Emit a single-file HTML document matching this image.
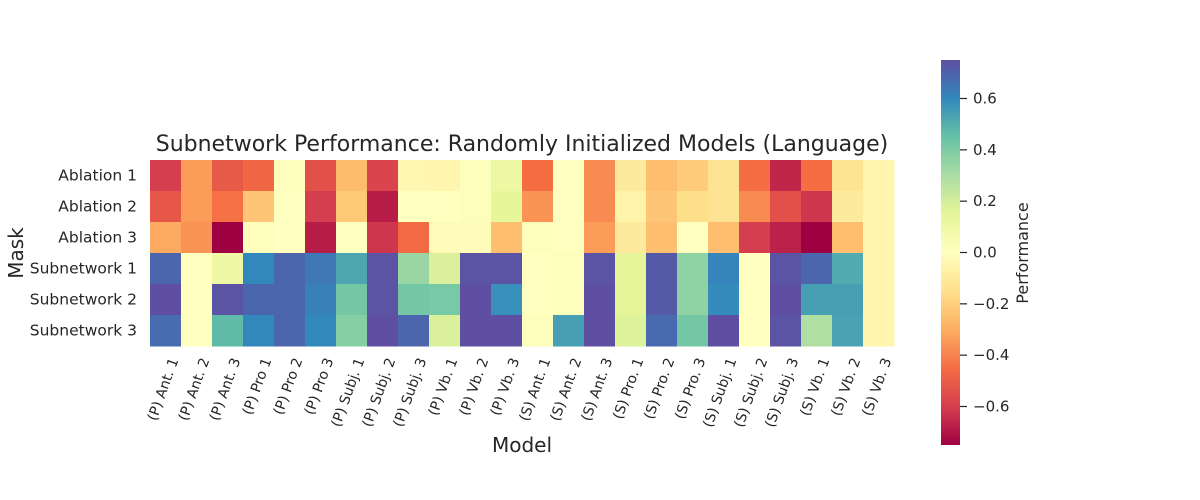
<!DOCTYPE html>
<html><head><meta charset="utf-8"><style>
body{margin:0;background:#fff;}
svg{display:block;font-family:"DejaVu Sans","Liberation Sans",sans-serif;fill:#262626;}
</style></head><body>
<svg id="chart" width="1200" height="500" xmlns="http://www.w3.org/2000/svg">
<defs><linearGradient id="cbg" x1="0" y1="1" x2="0" y2="0">
<stop offset="0" stop-color="#9e0142"/><stop offset="0.1" stop-color="#d53e4f"/><stop offset="0.2" stop-color="#f46d43"/><stop offset="0.3" stop-color="#fdae61"/><stop offset="0.4" stop-color="#fee08b"/><stop offset="0.5" stop-color="#ffffbf"/><stop offset="0.6" stop-color="#e6f598"/><stop offset="0.7" stop-color="#abdda4"/><stop offset="0.8" stop-color="#66c2a5"/><stop offset="0.9" stop-color="#3288bd"/><stop offset="1" stop-color="#5e4fa2"/>
</linearGradient></defs>
<text x="522" y="151" font-size="22" text-anchor="middle">Subnetwork Performance: Randomly Initialized Models (Language)</text>
<text x="522" y="452" font-size="20" text-anchor="middle">Model</text>
<text transform="translate(23,253) rotate(-90)" font-size="20" text-anchor="middle">Mask</text>
<g id="cells"></g>
<g id="ylab"></g>
<g id="xlab"></g>
<rect x="941" y="60" width="19" height="385" fill="url(#cbg)"/>
<g id="cbticks"></g>
<text transform="translate(1028,253) rotate(-90)" font-size="16" text-anchor="middle">Performance</text>
</svg>
<script>
const rows = ["Ablation 1","Ablation 2","Ablation 3","Subnetwork 1","Subnetwork 2","Subnetwork 3"];
const cols = ["(P) Ant. 1","(P) Ant. 2","(P) Ant. 3","(P) Pro 1","(P) Pro 2","(P) Pro 3","(P) Subj. 1","(P) Subj. 2","(P) Subj. 3","(P) Vb. 1","(P) Vb. 2","(P) Vb. 3","(S) Ant. 1","(S) Ant. 2","(S) Ant. 3","(S) Pro. 1","(S) Pro. 2","(S) Pro. 3","(S) Subj. 1","(S) Subj. 2","(S) Subj. 3","(S) Vb. 1","(S) Vb. 2","(S) Vb. 3"];
const ablation1 = [-0.6,-0.34,-0.51,-0.47,-0.01,-0.54,-0.26,-0.58,-0.04,-0.05,0.01,0.11,-0.45,0,-0.38,-0.1,-0.25,-0.21,-0.13,-0.45,-0.66,-0.45,-0.13,-0.05];
const ablation2 = [-0.52,-0.34,-0.44,-0.23,0,-0.6,-0.22,-0.68,0,0,0.02,0.14,-0.36,0,-0.38,-0.06,-0.23,-0.15,-0.13,-0.38,-0.54,-0.62,-0.1,-0.05];
const ablation3 = [-0.31,-0.36,-0.75,-0.01,0,-0.68,0,-0.62,-0.46,-0.02,-0.02,-0.25,-0.01,0,-0.34,-0.1,-0.25,0,-0.25,-0.6,-0.67,-0.75,-0.25,-0.05];
const subnet1 = [0.69,0,0.1,0.6,0.69,0.64,0.52,0.74,0.34,0.18,0.74,0.74,0,0.01,0.74,0.15,0.72,0.36,0.61,0,0.74,0.69,0.51,-0.05];
const subnet2 = [0.75,0,0.74,0.69,0.69,0.62,0.42,0.74,0.42,0.41,0.75,0.58,0,0.01,0.75,0.15,0.72,0.36,0.59,0,0.75,0.54,0.54,-0.05];
const subnet3 = [0.67,0,0.47,0.6,0.69,0.6,0.38,0.75,0.69,0.18,0.75,0.75,0.01,0.54,0.75,0.17,0.68,0.42,0.75,0,0.74,0.29,0.53,-0.05];
const cbTicks = [0.6,0.4,0.2,0,-0.2,-0.4,-0.6];
const values = [ablation1,ablation2,ablation3,subnet1,subnet2,subnet3];
const vmin=-0.75, vmax=0.75;
const X0=150, Y0=160, CW=31, CH=31;
const stops=["#9e0142","#d53e4f","#f46d43","#fdae61","#fee08b","#ffffbf","#e6f598","#abdda4","#66c2a5","#3288bd","#5e4fa2"];
function hex(h){return [1,3,5].map(i=>parseInt(h.substr(i,2),16));}
function color(v){let t=(v-vmin)/(vmax-vmin);t=Math.max(0,Math.min(1,t))*10;let i=Math.min(9,Math.floor(t)),f=t-i;const a=hex(stops[i]),b=hex(stops[i+1]);return "rgb("+a.map((c,k)=>Math.round(c+(b[k]-c)*f)).join(",")+")";}
const xPos=i=>X0+i*CW, yPos=j=>Y0+j*CH;
const cbY=v=>60+(vmax-v)/(vmax-vmin)*385;
const NS="http://www.w3.org/2000/svg";
function mk(tag,attrs,parent,txt){const e=document.createElementNS(NS,tag);for(const k in attrs)e.setAttribute(k,attrs[k]);if(txt!==undefined)e.textContent=txt;parent.appendChild(e);return e;}
const cells=document.getElementById('cells'),ylab=document.getElementById('ylab'),xlab=document.getElementById('xlab'),cbt=document.getElementById('cbticks');
values.forEach((row,j)=>row.forEach((v,i)=>{
  const r=mk('rect',{x:xPos(i),y:yPos(j),width:CW+0.5,height:CH+0.5,fill:color(v)},cells);
  
  
}));
rows.forEach((n,j)=>{
  const t=mk('text',{x:137,y:yPos(j)+CH/2+5,'font-size':15.5,'text-anchor':'end'},ylab,n);
  
  
});
cols.forEach((n,i)=>{
  const cx=xPos(i)+CW/2+13, cy=360;
  const t=mk('text',{transform:`translate(${cx},${cy}) rotate(-70)`,'font-size':14,'text-anchor':'end'},xlab,n);
  
  
});
cbTicks.forEach(v=>{
  const y=cbY(v);
  const l=mk('line',{x1:960,x2:967,y1:y,y2:y,stroke:'#262626','stroke-width':1.2},cbt);
  
  
  const t=mk('text',{x:973,y:y+5,'font-size':15},cbt,(v<0?'\u2212':'')+Math.abs(v).toFixed(1));
  
  
});
</script>
</body></html>
